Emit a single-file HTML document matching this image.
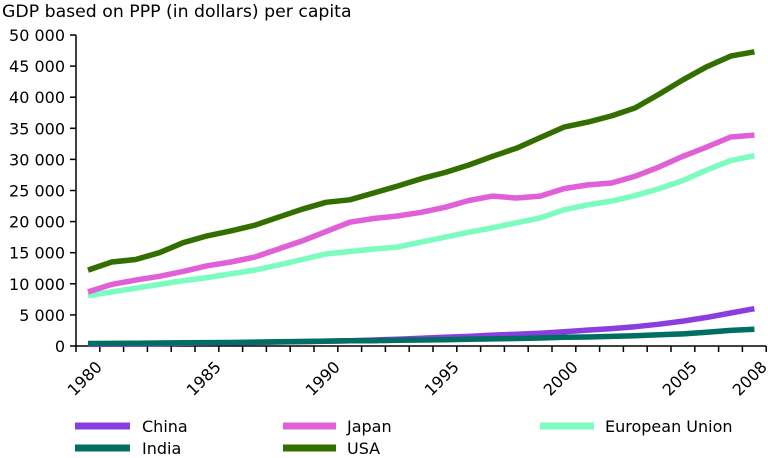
<!DOCTYPE html>
<html><head><meta charset="utf-8"><style>
body{margin:0;background:#fff;}
svg{display:block;font-family:"DejaVu Sans","Liberation Sans",sans-serif;}
</style></head><body>
<svg id="c" width="768" height="458" xmlns="http://www.w3.org/2000/svg">
<text x="2" y="17" font-size="17.3" fill="#000">GDP based on PPP (in dollars) per capita</text>
<g font-size="16" text-anchor="end" fill="#000" id="yl"></g>
<g id="ax" stroke="#000" stroke-width="1.5"></g>
<g id="series" fill="none" stroke-width="5.5" stroke-linejoin="round" stroke-linecap="butt"></g>
<g font-size="16" fill="#000" text-anchor="end">
<text transform="translate(103,368) rotate(-45)">1980</text>
<text transform="translate(222,368) rotate(-45)">1985</text>
<text transform="translate(341,368) rotate(-45)">1990</text>
<text transform="translate(460,368) rotate(-45)">1995</text>
<text transform="translate(579,368) rotate(-45)">2000</text>
<text transform="translate(698,368) rotate(-45)">2005</text>
<text transform="translate(768,368) rotate(-45)">2008</text>
</g>
<g stroke-width="7">
<line x1="75" y1="426" x2="130" y2="426" stroke="#8a3ee0"/>
<line x1="283" y1="426" x2="336" y2="426" stroke="#e060d8"/>
<line x1="540" y1="426" x2="594" y2="426" stroke="#7dfcc0"/>
<line x1="75" y1="448" x2="130" y2="448" stroke="#006e60"/>
<line x1="283" y1="448" x2="336" y2="448" stroke="#336e00"/>
</g>
<g font-size="16" fill="#000">
<text x="142" y="432">China</text>
<text x="347" y="432">Japan</text>
<text x="605" y="432">European Union</text>
<text x="142" y="454">India</text>
<text x="347" y="454">USA</text>
</g>
</svg>
<script>
const ns="http://www.w3.org/2000/svg";
const Y0=346,Y50=35,sc=(Y0-Y50)/50000;
const X0=88,dx=23.8;
const yl=document.getElementById('yl'),ax=document.getElementById('ax');
function el(t,a,p){const e=document.createElementNS(ns,t);for(const k in a)e.setAttribute(k,a[k]);p.appendChild(e);return e;}
for(let v=0;v<=50000;v+=5000){const y=Y0-v*sc;const t=el('text',{x:65,y:y+6},yl);t.textContent=v==0?'0':(Math.floor(v/1000)+' '+'000');el('line',{x1:70,y1:y,x2:76,y2:y},ax);}
el('line',{x1:76,y1:Y0,x2:766,y2:Y0},ax);
el('line',{x1:76,y1:Y50,x2:76,y2:Y0},ax);
for(let k=0;k<=29;k++){const x=76+k*dx;el('line',{x1:x,y1:Y0,x2:x,y2:Y0+6},ax);}
const D={
'#7dfcc0':[8100,8700,9300,9900,10500,11000,11600,12200,13000,13900,14800,15200,15600,15900,16700,17500,18300,19000,19800,20600,21900,22700,23300,24200,25300,26600,28300,29800,30600],
'#e060d8':[8700,9900,10600,11200,12000,12900,13500,14300,15600,16900,18400,19900,20500,20900,21500,22300,23400,24100,23800,24100,25300,25900,26200,27300,28800,30500,32000,33600,33900],
'#336e00':[12200,13500,13900,15000,16600,17700,18500,19400,20700,22000,23100,23500,24600,25700,26900,27900,29100,30500,31800,33500,35200,36000,37000,38300,40500,42800,44900,46600,47300],
'#8a3ee0':[250,280,320,370,430,480,520,570,640,700,760,840,960,1100,1250,1400,1550,1750,1900,2050,2300,2550,2800,3100,3500,4000,4600,5300,6000],
'#006e60':[400,420,450,480,510,540,570,620,680,720,780,830,860,910,960,1010,1080,1140,1200,1280,1400,1450,1540,1660,1800,1950,2200,2500,2700]};
const s=document.getElementById('series');
for(const c in D){el('polyline',{points:D[c].map((v,i)=>(X0+i*dx).toFixed(1)+','+(Y0-v*sc).toFixed(1)).join(' '),stroke:c},s);}
</script>
</body></html>
